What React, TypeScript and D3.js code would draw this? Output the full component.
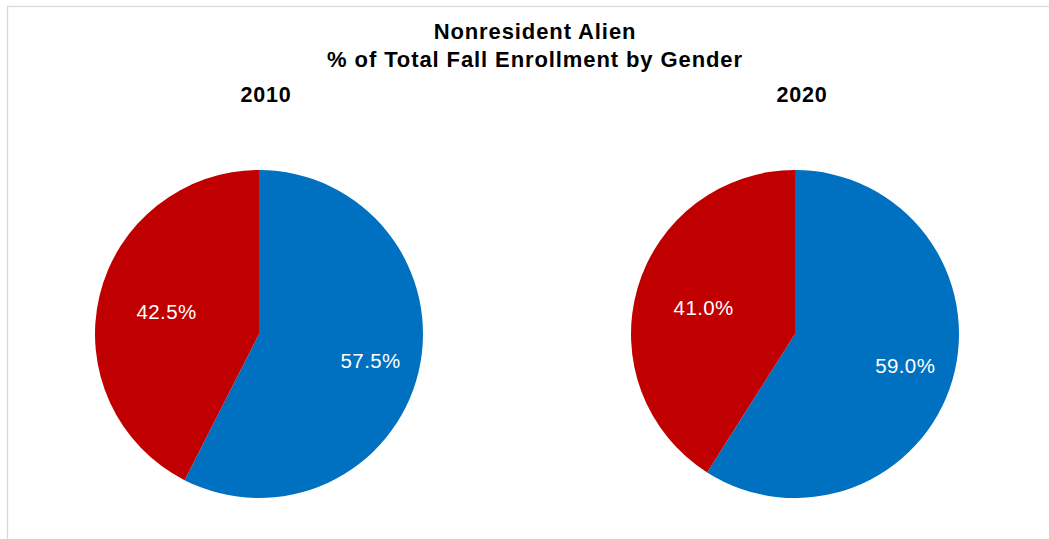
import React from "react";
import * as d3 from "d3";

const title1 = "Nonresident Alien";
const title2 = "% of Total Fall Enrollment by Gender";
const years = ["2010", "2020"];
const genders = ["Female", "Male"];
const values2010 = [57.5, 42.5];
const values2020 = [59.0, 41.0];
const colors = ["#0070C0", "#C00000"];

const W = 1049;
const H = 539;
const R = 164;
const centers = [259, 795];
const cy = 334;
const labelFrac = [0.7, 0.58];

export default function App() {
  const series = [values2010, values2020];
  const pie = d3.pie<number>().sort(null).value((d) => d);
  const arc = d3.arc<d3.PieArcDatum<number>>().innerRadius(0).outerRadius(R);
  return (
    <svg
      width={W}
      height={H}
      style={{ position: "absolute", left: 0, top: 0, fontFamily: "'Liberation Sans', Arial, sans-serif" }}
    >
      <rect x={0} y={0} width={W} height={H} fill="#fff" />
      <rect x={7.5} y={6.5} width={W + 10} height={H + 10} fill="#fff" stroke="#d9d9d9" strokeWidth={1.3} />
      <text x={535} y={39} textAnchor="middle" fontSize={22} letterSpacing={0.9} fontWeight="bold" fill="#000">
        {title1}
      </text>
      <text x={535} y={66.5} textAnchor="middle" fontSize={22} letterSpacing={0.9} fontWeight="bold" fill="#000">
        {title2}
      </text>
      {series.map((vals, si) => {
        const arcs = pie(vals);
        const cx = centers[si];
        return (
          <g key={si}>
            <text x={cx + 7} y={102} textAnchor="middle" fontSize={21.5} letterSpacing={0.8} fontWeight="bold" fill="#000">
              {years[si]}
            </text>
            <g transform={`translate(${cx},${cy})`}>
              {arcs.map((a, i) => (
                <path key={genders[i]} d={arc(a) || ""} fill={colors[i]} />
              ))}
              {arcs.map((a, i) => {
                const lr = R * labelFrac[i];
                const la = d3
                  .arc<d3.PieArcDatum<number>>()
                  .innerRadius(lr)
                  .outerRadius(lr);
                const [lx, ly] = la.centroid(a);
                return (
                  <text
                    key={"l" + i}
                    x={lx}
                    y={ly}
                    dy="0.35em"
                    textAnchor="middle"
                    fontSize={20.5}
                    letterSpacing={0.4}
                    fill="#fff"
                  >
                    {vals[i].toFixed(1) + "%"}
                  </text>
                );
              })}
            </g>
          </g>
        );
      })}
    </svg>
  );
}
